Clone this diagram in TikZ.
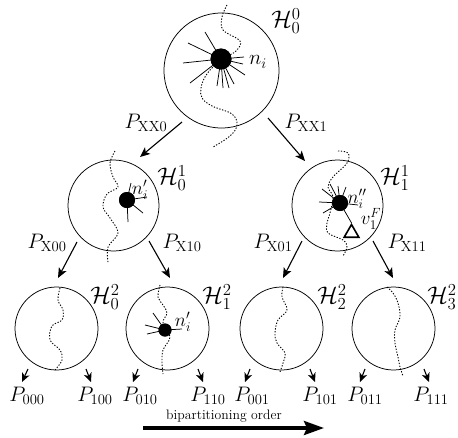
\RequirePackage{fix-cm}
\documentclass[tikz,border=0pt]{standalone}
\usetikzlibrary{arrows.meta,shapes.geometric}
\begin{document}
\begin{tikzpicture}[x=1pt,y=-1pt,
  part/.style={circle,draw,line width=0.75pt,minimum size=#1,inner sep=0pt},
  cut/.style={line width=0.9pt,dash pattern=on 1.3pt off 1.6pt},
  ray/.style={line width=0.75pt},
  vx/.style={circle,fill=black,inner sep=0pt,minimum size=#1},
  lab/.style={font=\fontsize{21}{25}\selectfont,inner sep=0pt},
  hlab/.style={font=\fontsize{24}{28}\selectfont,inner sep=0pt},
  slab/.style={font=\fontsize{19}{22}\selectfont,inner sep=0pt},
  flow/.style={-{Stealth[length=10pt,width=8.5pt,inset=2.5pt]},line width=1.1pt},
  leaf/.style={-{Stealth[length=9pt,width=8pt,inset=2.5pt]},line width=1.1pt},
  order/.style={-{Stealth[length=20pt,width=14pt,inset=3pt]},line width=3.5pt},
]
\useasboundingbox (0,0) rectangle (458,437);

% partitions
\node[part=115] (h00) at (221.5,70.5) {};
\node[part=91] (h10) at (113.5,205.5) {};
\node[part=91] (h11) at (337.5,205.5) {};
\node[part=83] (h20) at (56.5,328.5) {};
\node[part=83] (h21) at (167.5,328.5) {};
\node[part=83] (h22) at (281.5,328.5) {};
\node[part=83] (h23) at (393.5,328.5) {};

% partition labels
\node[hlab] (lh00) at (286,21) {$\mathcal{H}_0^0$};
\node[hlab] (lh10) at (172,178) {$\mathcal{H}_0^1$};
\node[hlab] (lh11) at (395,178) {$\mathcal{H}_1^1$};
\node[hlab] (lh20) at (105,297) {$\mathcal{H}_0^2$};
\node[hlab] (lh21) at (217,297) {$\mathcal{H}_1^2$};
\node[hlab] (lh22) at (332,297) {$\mathcal{H}_2^2$};
\node[hlab] (lh23) at (442,297) {$\mathcal{H}_3^2$};

% cut lines
\draw[cut] plot[smooth,tension=0.6] coordinates {(227,5) (222,17) (223,30) (240,41) (236,51) (226,57) (213,67) (205,77) (201,88) (202,98) (212,106) (232,114) (237,125) (230,136) (213,147)};
\draw[cut] plot[smooth,tension=0.6] coordinates {(115,151) (110,163) (113,177) (118,187) (107,194) (103,207) (110,218) (118,233) (108,247) (108,262)};
\draw[cut] plot[smooth,tension=0.6] coordinates {(338,151) (348,153) (347,163) (333,177) (328,187) (333,197) (330,213) (327,223) (328,233) (343,240) (347,247) (343,256)};
\draw[cut] plot[smooth,tension=0.6] coordinates {(60,288) (58,300) (63,310) (62,320) (52,326) (50,340) (60,350) (62,360) (55,370)};
\draw[cut] plot[smooth,tension=0.6] coordinates {(160,285) (158,297) (163,305) (167,313) (163,323) (170,337) (163,350) (162,363) (163,374)};
\draw[cut] plot[smooth,tension=0.6] coordinates {(283,287) (282,297) (287,310) (278,320) (275,333) (277,343) (285,353) (283,363) (280,372)};
\draw[cut] plot[smooth,tension=0.6] coordinates {(387,287) (393,293) (398,303) (400,317) (395,330) (395,343) (398,357) (400,367) (403,376)};

% top vertex
\node[vx=21] (d0) at (221,59) {};
\foreach \p in {(205,32),(188,43),(183,63),(190,83),(217,86),(223,88),(229,88),(234,84),(245,75),(243,64),(244,57)}
  \draw[ray] (d0.center) -- \p;
\node[vx=21] at (221,59) {};
\node[lab] (lni) at (258,62) {$n_i$};

% level-1 left vertex
\node[vx=16] (d1l) at (127,200) {};
\foreach \p in {(131,183),(147,197),(143,213),(128,222)}
  \draw[ray] (d1l.center) -- \p;
\node[vx=16] at (127,200) {};
\node[slab] (lnl) at (140,190) {$n_i'$};

% level-1 right vertex
\node[vx=16] (d1r) at (340,203) {};
\foreach \p in {(322,189),(319,202),(323,213),(330,184),(338,186),(346,187),(358,205)}
  \draw[ray] (d1r.center) -- \p;
\node[vx=16] at (340,203) {};
\node[slab] (lnr) at (357,199) {$n_i''$};
\node[regular polygon,regular polygon sides=3,draw,line width=1.6pt,minimum size=17pt,inner sep=0pt] (tv) at (351.5,233) {};
\draw[ray] (d1r) -- (tv.corner 1);
\node[slab] (lvf) at (371,219) {$v_1^F$};

% level-2 vertex
\node[vx=13] (d2) at (165,330) {};
\foreach \p in {(153,313),(145,325),(147,334),(182,329)}
  \draw[ray] (d2.center) -- \p;
\node[vx=13] at (165,330) {};
\node[slab] (ln2) at (183,322) {$n_i'$};

% arrows level 0 -> 1
\coordinate (a0ls) at (182,122); \coordinate (a0le) at (140,157);
\coordinate (a0rs) at (268,118); \coordinate (a0re) at (305,161);
\draw[flow] (a0ls) -- (a0le);
\draw[flow] (a0rs) -- (a0re);
\node[lab] (pxx0) at (146,123) {$P_{\mathrm{XX0}}$};
\node[lab] (pxx1) at (306,123) {$P_{\mathrm{XX1}}$};

% arrows level 1 -> 2
\coordinate (a1a) at (77,242); \coordinate (a1b) at (58,278);
\coordinate (a1c) at (149,241); \coordinate (a1d) at (170,278);
\coordinate (a1e) at (302,241); \coordinate (a1f) at (283,278);
\coordinate (a1g) at (373,241); \coordinate (a1h) at (393,278);
\draw[flow] (a1a) -- (a1b);
\draw[flow] (a1c) -- (a1d);
\draw[flow] (a1e) -- (a1f);
\draw[flow] (a1g) -- (a1h);
\node[lab] (px00) at (47,243) {$P_{\mathrm{X00}}$};
\node[lab] (px10) at (182,243) {$P_{\mathrm{X10}}$};
\node[lab] (px01) at (273,243) {$P_{\mathrm{X01}}$};
\node[lab] (px11) at (407,243) {$P_{\mathrm{X11}}$};

% leaf arrows
\foreach \n/\sx/\ex in {a/28/22, b/86/91, c/138/133, d/198/203, e/250/245, f/310/315, g/365/360, h/424/429}{
  \coordinate (l\n s) at (\sx,369);
  \coordinate (l\n e) at (\ex,382);
  \draw[leaf] (l\n s) -- (l\n e);
}
\node[lab] (p000) at (27,396) {$P_{000}$};
\node[lab] (p100) at (95,396) {$P_{100}$};
\node[lab] (p010) at (140,396) {$P_{010}$};
\node[lab] (p110) at (208,396) {$P_{110}$};
\node[lab] (p001) at (252,396) {$P_{001}$};
\node[lab] (p101) at (320,396) {$P_{101}$};
\node[lab] (p011) at (365,396) {$P_{011}$};
\node[lab] (p111) at (431,396) {$P_{111}$};

% order arrow
\node[font=\fontsize{13.7}{16}\selectfont,inner sep=0pt] (ord) at (224,416) {bipartitioning order};
\coordinate (os) at (143,428); \coordinate (oe) at (324,428);
\draw[order] (os) -- (oe);
\end{tikzpicture}
\end{document}
